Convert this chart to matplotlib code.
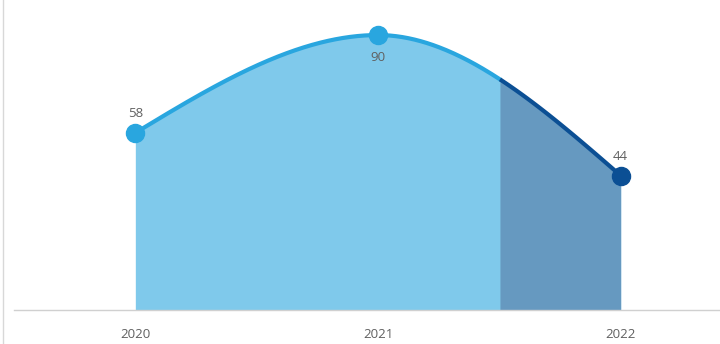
import numpy as np
import matplotlib.pyplot as plt

years = ["2020", "2021", "2022"]
values = [58, 90, 44]
split_at = 1.5  # x position where the projected part begins

light_line = "#29a6df"
light_fill = "#7fc9eb"
dark_line = "#0b4f94"
dark_fill = "#6699c0"
text_col = "#606060"


def monotone_x(y, n=200):
    """Cubic monotone interpolation (same tangents as d3.curveMonotoneX)."""
    y = np.asarray(y, dtype=float)
    x = np.arange(len(y), dtype=float)
    s = np.diff(y)
    t = np.zeros(len(y))
    for i in range(1, len(y) - 1):
        s0, s1 = s[i - 1], s[i]
        p = (s0 + s1) / 2
        t[i] = (np.sign(s0) + np.sign(s1)) * min(abs(s0), abs(s1), 0.5 * abs(p))
    t[0] = (3 * s[0] - t[1]) / 2
    t[-1] = (3 * s[-1] - t[-2]) / 2
    xs, ys = [], []
    for i in range(len(y) - 1):
        u = np.linspace(0, 1, n)
        h00 = 2 * u**3 - 3 * u**2 + 1
        h10 = u**3 - 2 * u**2 + u
        h01 = -2 * u**3 + 3 * u**2
        h11 = u**3 - u**2
        xs.append(x[i] + u)
        ys.append(h00 * y[i] + h10 * t[i] + h01 * y[i + 1] + h11 * t[i + 1])
    return np.concatenate(xs), np.concatenate(ys)


plt.rcParams['font.family'] = ['Open Sans', 'DejaVu Sans']

fig = plt.figure(figsize=(7.2, 3.44), dpi=100)
# axis spans a little past the right edge of the canvas
ax = fig.add_axes([14 / 720, 1 - 310 / 344, 728 / 720, 310 / 344])

xs, ys = monotone_x(values)
left = xs <= split_at + 0.01
right = xs >= split_at

# light area under the whole curve, dark area laid over the projected part
ax.fill_between(xs, 0, ys, color=light_fill, lw=0)
ax.fill_between(xs[right], 0, ys[right], color=dark_fill, lw=0)
ax.plot(xs[left], ys[left], color=light_line, lw=3, solid_capstyle='butt')
ax.plot(xs[right], ys[right], color=dark_line, lw=3, solid_capstyle='butt')

idx = np.arange(len(values))
ax.plot(idx[:2], values[:2], 'o', color=light_line, ms=13, zorder=5)
ax.plot(idx[2:], values[2:], 'o', color=dark_line, ms=13, zorder=5)

offsets = [14, -16, 14]
for i, v in enumerate(values):
    ax.annotate(str(v), (i, v), xytext=(0, offsets[i]), textcoords='offset points',
                ha='center', va='center', fontsize=9.5, color=text_col)

ax.set_xlim(-0.5, 2.5)
ax.set_ylim(0, 310 / 3.055)
ax.set_xticks(idx)
ax.set_xticklabels(years, fontsize=9.5, color=text_col)
ax.tick_params(axis='x', length=0, pad=13)
ax.set_yticks([])
for side in ['top', 'right', 'left']:
    ax.spines[side].set_visible(False)
ax.spines['bottom'].set_color('#d0d0d0')
ax.spines['bottom'].set_linewidth(1)

# thin frame line on the left edge of the canvas
fig.add_artist(plt.Line2D([2.5 / 720, 2.5 / 720], [0, 1], color='#d8d8d8', lw=1,
                          transform=fig.transFigure))

fig.savefig("out.png", dpi=100)
